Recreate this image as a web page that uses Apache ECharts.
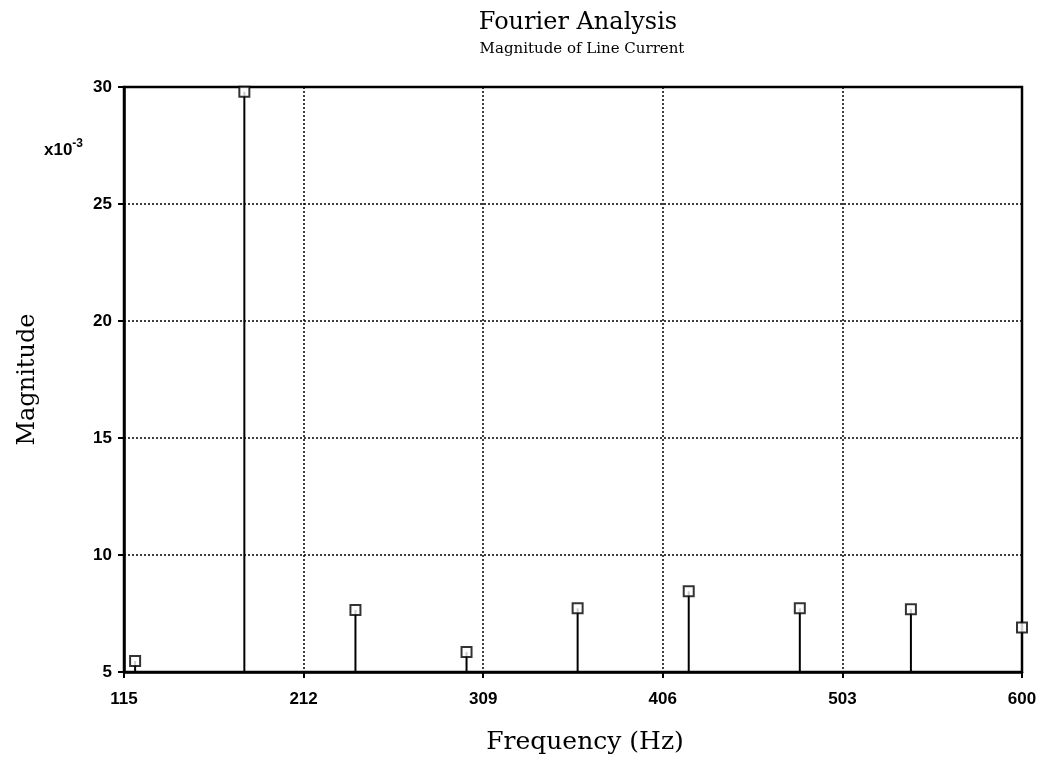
<!DOCTYPE html>
<html><head><meta charset="utf-8">
<script src="https://cdn.jsdelivr.net/npm/echarts@6/dist/echarts.min.js"></script>
<style>html,body{margin:0;padding:0;background:#fff}#c{width:1041px;height:760px}</style>
</head><body><div id="c"></div>
<script>
const frequencies = [121, 180, 240, 300, 360, 420, 480, 540, 600];
const magnitudes = [5.47, 29.8, 7.65, 5.85, 7.72, 8.45, 7.72, 7.68, 6.9];
const xTicks = [115, 212, 309, 406, 503, 600];
const yTicks = [5, 10, 15, 20, 25, 30];
const title = 'Fourier Analysis';
const subtitle = 'Magnitude of Line Current';

const pts = frequencies.map((f, i) => [f, magnitudes[i]]);
const chart = echarts.init(document.getElementById('c'), null, {renderer: 'canvas'});
const serif = '"DejaVu Serif", "Liberation Serif", serif';
const sans = '"Liberation Sans", Arial, sans-serif';
chart.setOption({
  animation: false,
  backgroundColor: '#fff',
  title: [
    {text: title, left: 573, textAlign: 'center', top: 6, textStyle: {fontFamily: serif, fontSize: 24, fontWeight: 'normal', color: '#000'}},
    {text: subtitle, left: 577, textAlign: 'center', top: 37, textStyle: {fontFamily: serif, fontSize: 15, fontWeight: 'normal', color: '#000'}},
    {text: 'x10{s|-3}', left: 39, top: 133, textStyle: {fontFamily: sans, fontSize: 17, fontWeight: 'bold', color: '#000', rich: {s: {fontFamily: sans, fontSize: 12, fontWeight: 'bold', verticalAlign: 'top', padding: [0,0,12,0]}}}}
  ],
  grid: {left: 124, right: 19, top: 87, bottom: 87, show: true, borderColor: '#000', borderWidth: 2.5, backgroundColor: 'transparent'},
  xAxis: {
    type: 'value', min: 115, max: 600, interval: 97,
    name: 'Frequency (Hz)', nameLocation: 'middle', nameGap: 58,
    nameTextStyle: {fontFamily: serif, fontSize: 25, color: '#000', padding: [0, 0, 0, 24]},
    axisLine: {show: true, lineStyle: {color: '#000', width: 2.5}},
    axisTick: {show: true, length: 6, lineStyle: {color: '#000', width: 2}},
    axisLabel: {fontFamily: sans, fontSize: 17, fontWeight: 'bold', color: '#000', margin: 19},
    splitLine: {show: true, lineStyle: {color: '#000', type: [2, 2], width: 1.5}}
  },
  yAxis: {
    type: 'value', min: 5, max: 30, interval: 5,
    name: 'Magnitude', nameLocation: 'middle', nameGap: 84, nameRotate: 90,
    nameTextStyle: {fontFamily: serif, fontSize: 24, color: '#000'},
    axisLine: {show: true, lineStyle: {color: '#000', width: 2.5}},
    axisTick: {show: true, length: 6, lineStyle: {color: '#000', width: 2}},
    axisLabel: {fontFamily: sans, fontSize: 17, fontWeight: 'bold', color: '#000', margin: 12},
    splitLine: {show: true, lineStyle: {color: '#000', type: [2, 2], width: 1.5}}
  },
  series: [
    {
      type: 'custom',
      data: pts,
      renderItem: function (params, api) {
        const x = api.value(0), y = api.value(1);
        const p0 = api.coord([x, 5]);
        const p1 = api.coord([x, y]);
        return {type: 'line', shape: {x1: p0[0], y1: p0[1], x2: p1[0], y2: p1[1]}, style: {stroke: '#000', lineWidth: 2}};
      },
      clip: false, z: 3
    },
    {
      type: 'scatter', data: pts, symbol: 'rect', symbolSize: 10, clip: false, z: 4,
      itemStyle: {color: '#fff', borderColor: '#000', borderWidth: 2}
    }
  ]
});
</script></body></html>
